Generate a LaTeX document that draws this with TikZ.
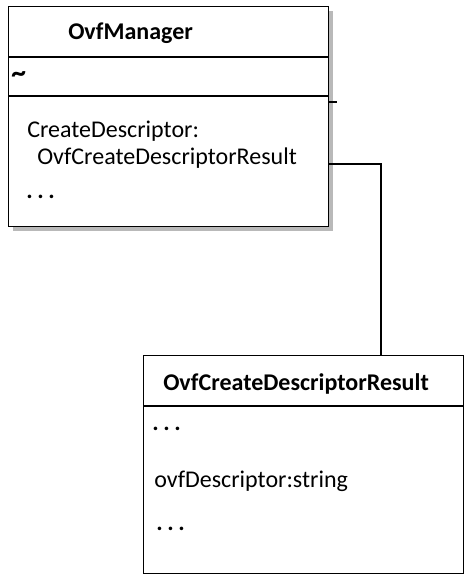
\documentclass[tikz,border=0pt]{standalone}
\usepackage{fontspec}
\setmainfont{Carlito}
\usetikzlibrary{positioning, calc, shadows}
\tikzset{
  classbox/.style={rectangle, draw=black, line width=1.1pt, fill=white,
                   anchor=north west, inner sep=0pt},
  shadowed/.style={drop shadow={shadow xshift=3pt, shadow yshift=-3pt,
                   fill=gray!55, opacity=1}},
  cname/.style={font=\fontsize{18}{21}\selectfont\bfseries, anchor=base west, inner sep=0pt},
  member/.style={font=\fontsize{18}{21}\selectfont, anchor=base west, inner sep=0pt},
  sep/.style={line width=1.1pt},
  link/.style={line width=1pt},
}
\newcommand{\moredots}{\textbf{.\hspace{3.5pt}.\hspace{3.5pt}.}}

\begin{document}
\begin{tikzpicture}[x=0.75pt, y=-0.75pt]
\useasboundingbox (0,0) rectangle (464,577);

% OvfManager class
\node[classbox, shadowed, minimum width=240pt, minimum height=165pt] (mgr) at (8,6) {};
\draw[sep] (mgr.west |- 0,57) -- (mgr.east |- 0,57);
\draw[sep] (mgr.west |- 0,96) -- (mgr.east |- 0,96);
\node[cname] (mgrTitle) at (68,40) {OvfManager};
\node[member, font=\fontsize{22}{24}\selectfont\bfseries] (mgrAttr) at (11,83) {\textasciitilde};
\node[member] (mgrOp) at (27,138) {CreateDescriptor:};
\node[member] (mgrOpType) at (37,165) {OvfCreateDescriptorResult};
\node[member] (mgrMore) at (26,199) {\moredots};
\draw[link] (mgr.east |- 0,102) -- ++(8,0);

% OvfCreateDescriptorResult class
\node[classbox, minimum width=240pt, minimum height=163.5pt] (res) at (143,355) {};
\draw[sep] (res.west |- 0,406) -- (res.east |- 0,406);
\node[cname] (resTitle) at (163,390) {OvfCreateDescriptorResult};
\node[member] (resTop) at (152,430) {\moredots};
\node[member] (resAttr) at (154,487) {ovfDescriptor:string};
\node[member] (resMore) at (156,530) {\moredots};

% association
\coordinate (bend) at (381,164);
\draw[link] (mgr.east |- bend) -- (bend) -- (bend |- res.north);
\end{tikzpicture}
\end{document}
